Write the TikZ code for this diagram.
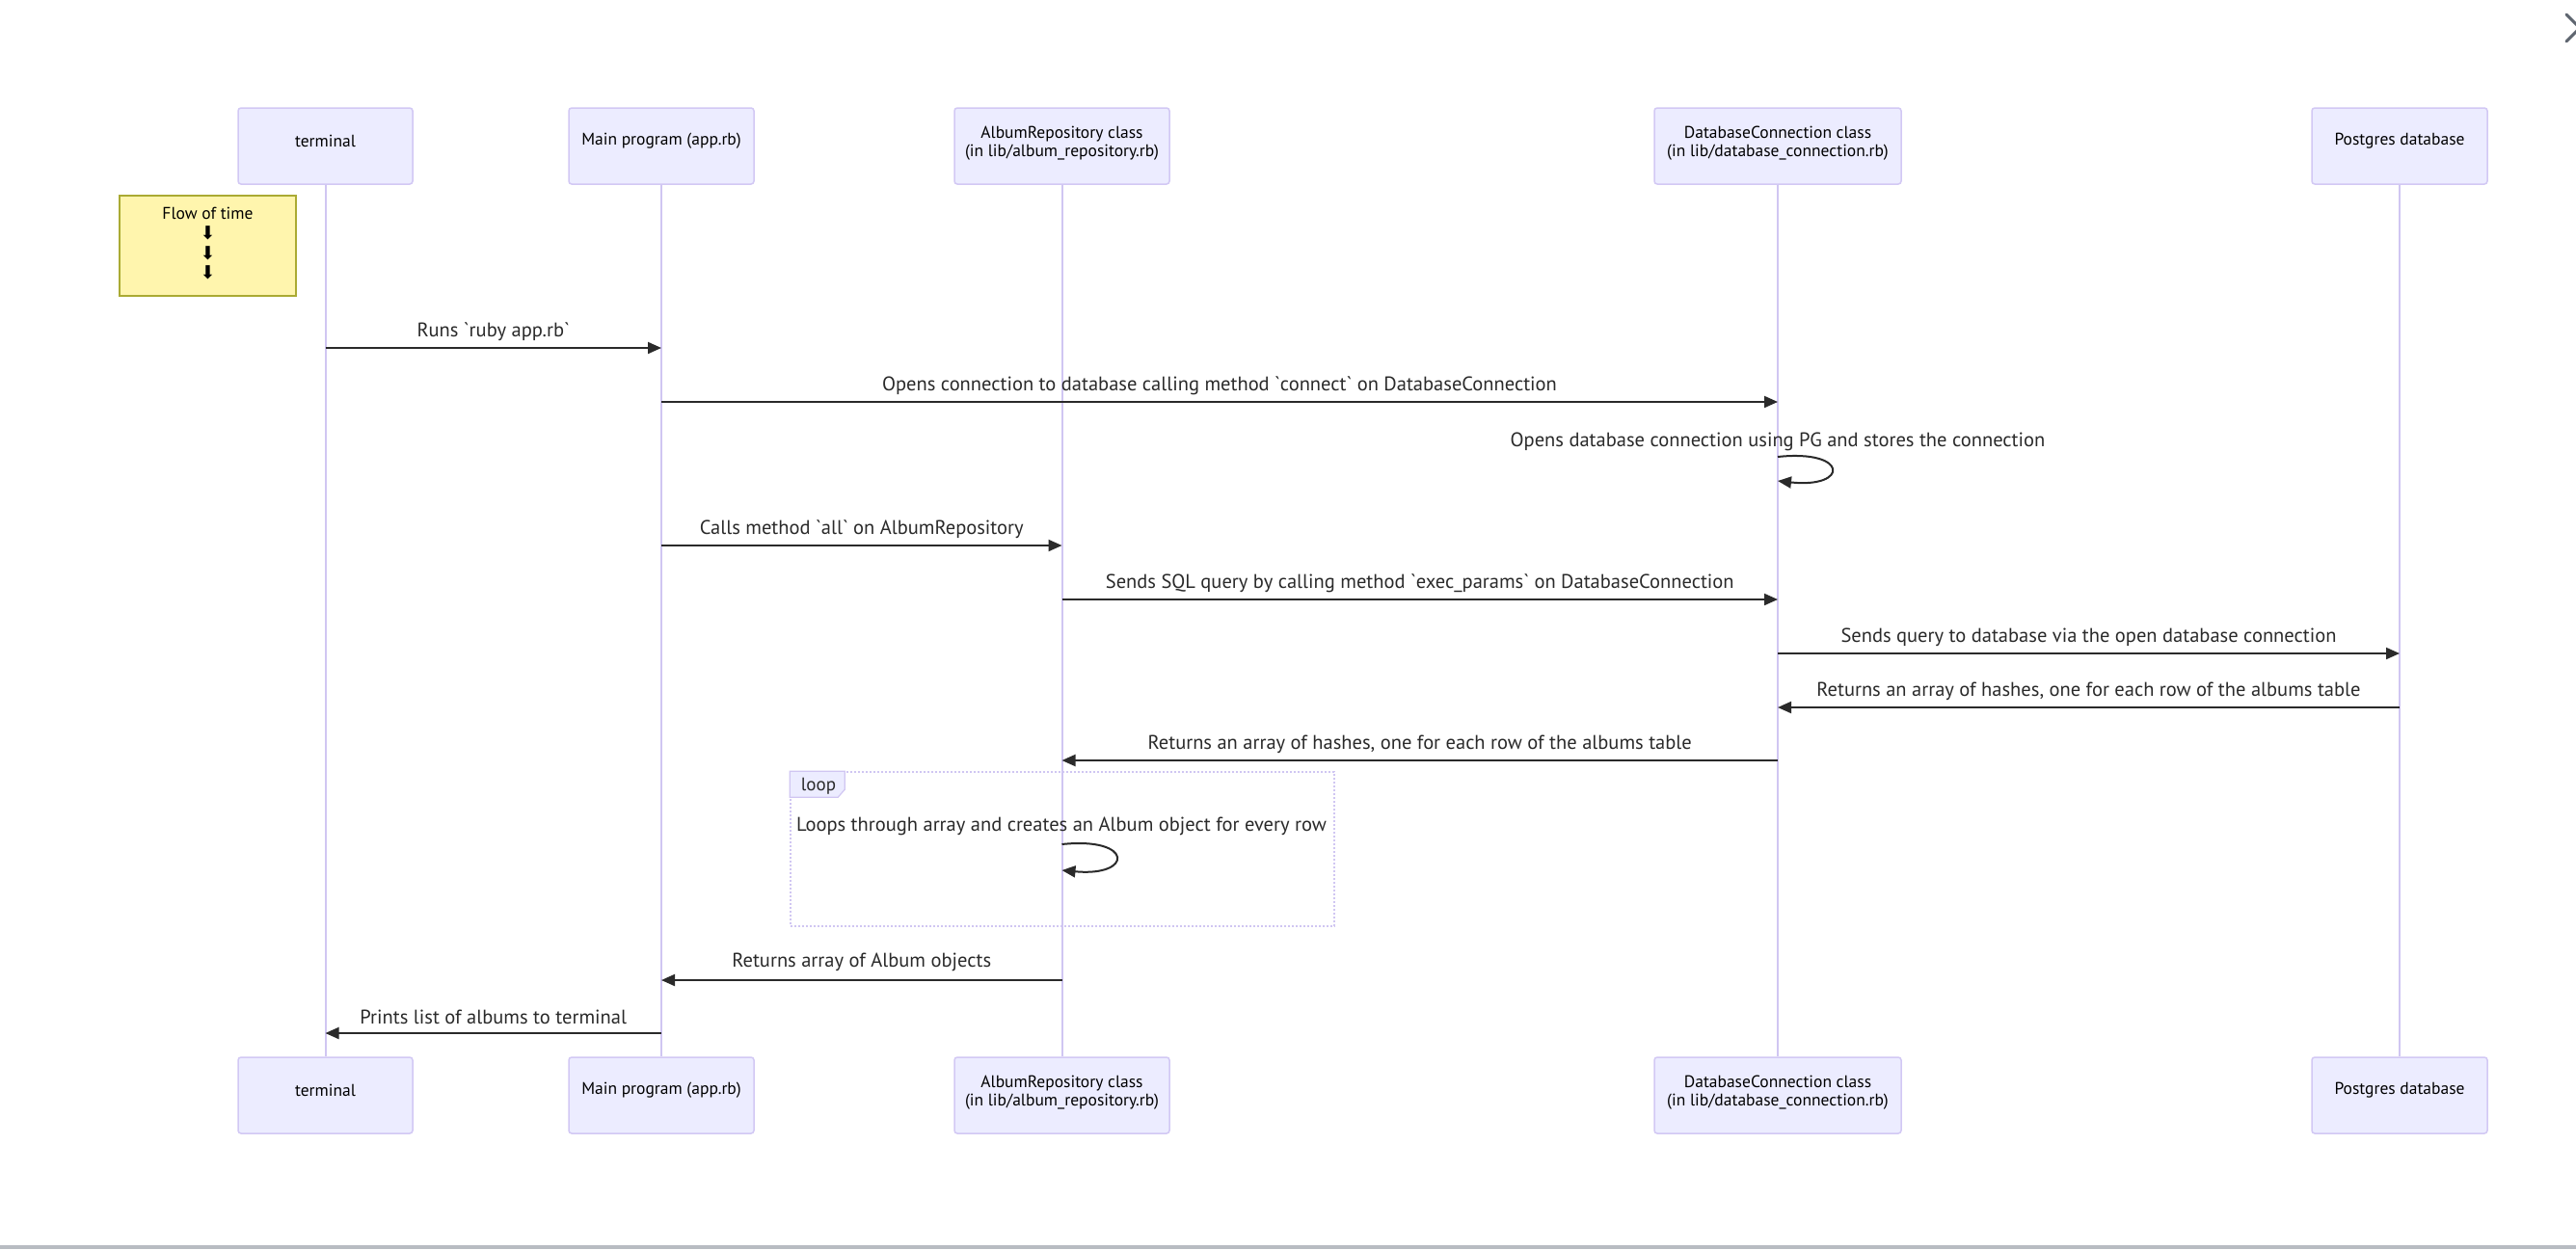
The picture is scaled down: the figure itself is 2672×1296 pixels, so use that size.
\documentclass[tikz,border=0pt]{standalone}
\usepackage{fontspec}
\setmainfont{PT Sans}[Ligatures=TeXOff]
\newfontfamily\symfont{DejaVu Sans}
\usetikzlibrary{arrows.meta}
\definecolor{actorfill}{HTML}{ECECFF}
\definecolor{actorline}{HTML}{D2C8F4}
\definecolor{lifecol}{HTML}{D0C6F2}
\definecolor{notefill}{HTML}{FFF5AD}
\definecolor{noteline}{HTML}{AAAA33}
\definecolor{ink}{HTML}{2A2A2A}
\definecolor{chrome}{HTML}{5F6670}
\definecolor{barcol}{HTML}{B8BCC2}
\newcommand{\downglyph}{{\symfont\fontsize{19}{20}\selectfont ⬇}}
\tikzset{
  actor/.style={draw=actorline, fill=actorfill, rounded corners=3pt, line width=1.5pt,
    align=center, inner sep=0pt, text=black, minimum height=79pt,
    font=\fontsize{17.5}{19.5}\selectfont},
  actortext/.style={align=center, inner sep=0pt, text=black,
    font=\fontsize{17.5}{19.5}\selectfont},
  lifeline/.style={draw=lifecol, line width=2pt},
  msg/.style={draw=ink, line width=2pt, -{Triangle[length=14pt,width=12pt]}},
  msglabel/.style={text=ink, font=\fontsize{20.5}{24}\selectfont, inner sep=0pt},
  notebox/.style={draw=noteline, fill=notefill, line width=1.2pt, align=center,
    inner sep=0pt, font=\fontsize{17.5}{20}\selectfont},
  loopframe/.style={draw=lifecol, line width=1.6pt, dash pattern=on 2pt off 2pt},
}
\begin{document}
\begin{tikzpicture}[x=1pt,y=-1pt]
\useasboundingbox[fill=white] (0,0) rectangle (2672,1296);

% participants, top row (boxes, then their titles slightly above centre)
\node[actor, minimum width=181pt] (t1) at (337.5,151.5) {};
\node[actor, minimum width=192pt] (m1) at (686,151.5) {};
\node[actor, minimum width=223pt] (a1) at (1101.5,151.5) {};
\node[actor, minimum width=256pt] (d1) at (1844,151.5) {};
\node[actor, minimum width=182pt] (p1) at (2489,151.5) {};
\node[actortext] (t1txt) at ([yshift=5pt]t1.center) {terminal};
\node[actortext] (m1txt) at ([yshift=5pt]m1.center) {Main program (app.rb)};
\node[actortext] (a1txt) at ([yshift=3pt]a1.center) {AlbumRepository class\\(in lib/album\_repository.rb)};
\node[actortext] (d1txt) at ([yshift=3pt]d1.center) {DatabaseConnection class\\(in lib/database\_connection.rb)};
\node[actortext] (p1txt) at ([yshift=5pt]p1.center) {Postgres database};

% participants, bottom row
\node[actor, minimum width=181pt] (t2) at (337.5,1136.5) {};
\node[actor, minimum width=192pt] (m2) at (686,1136.5) {};
\node[actor, minimum width=223pt] (a2) at (1101.5,1136.5) {};
\node[actor, minimum width=256pt] (d2) at (1844,1136.5) {};
\node[actor, minimum width=182pt] (p2) at (2489,1136.5) {};
\node[actortext] (t2txt) at ([yshift=5pt]t2.center) {terminal};
\node[actortext] (m2txt) at ([yshift=5pt]m2.center) {Main program (app.rb)};
\node[actortext] (a2txt) at ([yshift=3pt]a2.center) {AlbumRepository class\\(in lib/album\_repository.rb)};
\node[actortext] (d2txt) at ([yshift=3pt]d2.center) {DatabaseConnection class\\(in lib/database\_connection.rb)};
\node[actortext] (p2txt) at ([yshift=5pt]p2.center) {Postgres database};

% lifelines
\draw[lifeline] (t1.south) -- (t2.north);
\draw[lifeline] (m1.south) -- (m2.north);
\draw[lifeline] (a1.south) -- (a2.north);
\draw[lifeline] (d1.south) -- (d2.north);
\draw[lifeline] (p1.south) -- (p2.north);

% note
\node[notebox, minimum width=183pt, minimum height=104pt] (note) at (215.5,255) {};
\node[actortext, font=\fontsize{17.5}{20}\selectfont] (notetxt) at ([yshift=2pt]note.center)
  {Flow of time\\[1pt]\downglyph\\[0.5pt]\downglyph\\[0.5pt]\downglyph};

% messages
\draw[msg] (t1.south |- 0,361) -- node[msglabel, midway, yshift=17pt] {Runs `ruby app.rb`} (m1.south |- 0,361);
\draw[msg] (m1.south |- 0,417) -- node[msglabel, midway, yshift=17pt] {Opens connection to database calling method `connect` on DatabaseConnection} (d1.south |- 0,417);

\node[msglabel] (selfdb) at (1844,458) {Opens database connection using PG and stores the connection};
\draw[msg] (d1.south |- 0,474) .. controls (1918,466) and (1918,507) .. (d1.south |- 0,499);

\draw[msg] (m1.south |- 0,566) -- node[msglabel, midway, yshift=17pt] {Calls method `all` on AlbumRepository} (a1.south |- 0,566);
\draw[msg] (a1.south |- 0,622) -- node[msglabel, midway, yshift=17pt] {Sends SQL query by calling method `exec\_params` on DatabaseConnection} (d1.south |- 0,622);
\draw[msg] (d1.south |- 0,678) -- node[msglabel, midway, yshift=17pt] {Sends query to database via the open database connection} (p1.south |- 0,678);
\draw[msg] (p1.south |- 0,734) -- node[msglabel, midway, yshift=17pt] {Returns an array of hashes, one for each row of the albums table} (d1.south |- 0,734);
\draw[msg] (d1.south |- 0,789) -- node[msglabel, midway, yshift=17pt] {Returns an array of hashes, one for each row of the albums table} (a1.south |- 0,789);

% loop block
\node[loopframe, minimum width=564pt, minimum height=160pt, inner sep=0pt] (loopbox) at (1102,881) {};
\draw[draw=lifecol, fill=actorfill, line width=1.2pt] (loopbox.north west) -- ++(57,0) -- ++(0,19) -- ++(-7,8) -- ++(-50,0) -- cycle;
\node[text=ink, font=\fontsize{19}{21}\selectfont, inner sep=0pt] (looptag) at (849,816) {loop};
\node[msglabel] (selfalb) at (1101,857) {Loops through array and creates an Album object for every row};
\draw[msg] (a1.south |- 0,876) .. controls (1176,868) and (1176,910) .. (a1.south |- 0,903);

\draw[msg] (a1.south |- 0,1017) -- node[msglabel, midway, yshift=19pt] {Returns array of Album objects} (m1.south |- 0,1017);
\draw[msg] (m1.south |- 0,1072) -- node[msglabel, midway, yshift=17pt] {Prints list of albums to terminal} (t1.south |- 0,1072);

% window chrome
\draw[chrome, line width=3pt, line cap=round] (2662,15) -- (2676,29) -- (2662,43);
\fill[barcol] (0,1292) rectangle (2672,1296);
\end{tikzpicture}
\end{document}
